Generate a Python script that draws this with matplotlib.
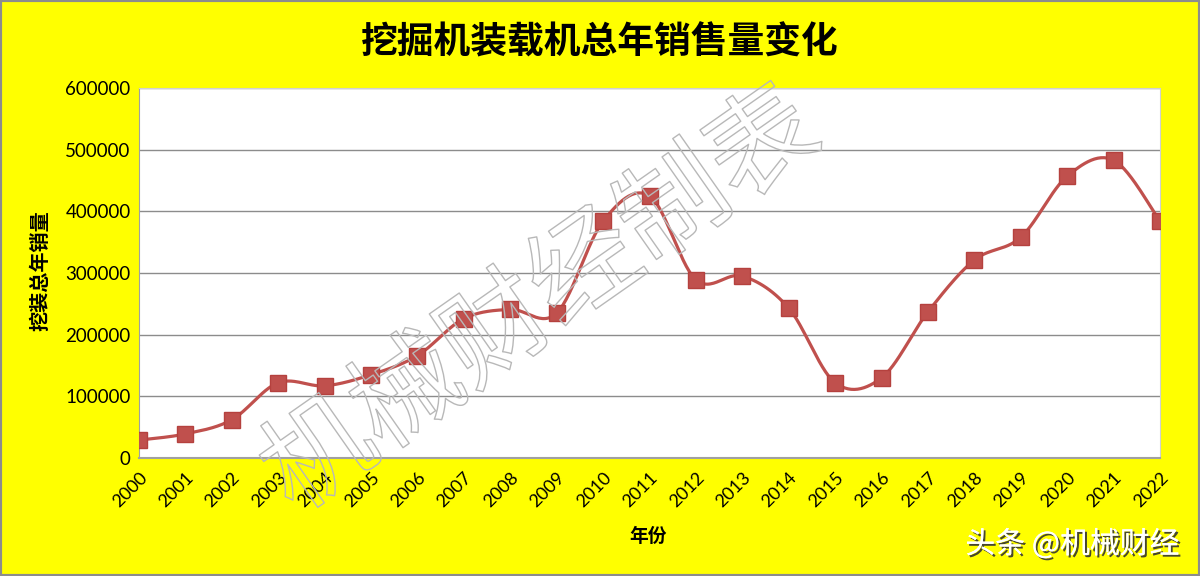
import numpy as np
import matplotlib
matplotlib.use("Agg")
import matplotlib.pyplot as plt
import matplotlib.patheffects as pe

plt.rcParams['font.family'] = ['Noto Sans CJK SC', 'DejaVu Sans']

# data
years = list(range(2000, 2023))
sales = [29000, 39000, 62000, 122000, 117000, 135000, 166000, 226000, 241000, 235000,
         384000, 425000, 289000, 295000, 243000, 122000, 130000, 237000, 321000, 358000,
         457000, 483000, 384000]
yticks = [0, 100000, 200000, 300000, 400000, 500000, 600000]

title = '挖掘机装载机总年销售量变化'
xlabel = '年份'
ylabel = '挖装总年销量'
watermark = '机械财经制表'
credit = '头条 @机械财经'

YELLOW = '#FFFF00'
RED = '#C0504D'
TICK_FONT = ['Lato', 'DejaVu Sans']


def smooth(x, y, n=30):
    """Catmull-Rom curve through the points, like Excel's smoothed line"""
    x = np.asarray(x, float)
    y = np.asarray(y, float)
    px = np.concatenate([[x[0]], x, [x[-1]]])
    py = np.concatenate([[y[0]], y, [y[-1]]])
    xs, ys = [], []
    t = np.linspace(0, 1, n)
    for i in range(1, len(px) - 2):
        p0x, p1x, p2x, p3x = px[i - 1], px[i], px[i + 1], px[i + 2]
        p0y, p1y, p2y, p3y = py[i - 1], py[i], py[i + 1], py[i + 2]
        c1x, c1y = p1x + (p2x - p0x) / 6, p1y + (p2y - p0y) / 6
        c2x, c2y = p2x - (p3x - p1x) / 6, p2y - (p3y - p1y) / 6
        bx = (1 - t) ** 3 * p1x + 3 * (1 - t) ** 2 * t * c1x + 3 * (1 - t) * t ** 2 * c2x + t ** 3 * p2x
        by = (1 - t) ** 3 * p1y + 3 * (1 - t) ** 2 * t * c1y + 3 * (1 - t) * t ** 2 * c2y + t ** 3 * p2y
        xs.append(bx)
        ys.append(by)
    return np.concatenate(xs), np.concatenate(ys)


fig = plt.figure(figsize=(12, 5.76), dpi=100, facecolor=YELLOW)
fig.patches.append(plt.Rectangle((0, 0), 1, 1, transform=fig.transFigure,
                                 fill=False, edgecolor='#8c8c8c', linewidth=3))

ax = fig.add_axes([0.1158, 0.2049, 0.8509, 0.6423])
ax.set_facecolor('white')

x = np.arange(len(years))
sx, sy = smooth(x, sales)
ax.plot(sx, sy, color=RED, linewidth=2.3, zorder=3)
ax.plot(x, sales, linestyle='none', marker='s', markersize=11,
        color=RED, markeredgecolor='#b5413e', zorder=4)

ax.set_xlim(0, len(years) - 1)
ax.set_ylim(0, 600000)
ax.set_yticks(yticks)
ax.set_yticklabels([str(v) for v in yticks], fontsize=13.5, family=TICK_FONT)
ax.set_xticks(x)
ax.set_xticklabels([str(y) for y in years], rotation=45, ha='right',
                   rotation_mode='anchor', fontsize=13, family=TICK_FONT)
ax.tick_params(axis='both', length=0, pad=6)
ax.tick_params(axis='x', pad=8)
ax.yaxis.grid(True, color='#8c8c8c', linewidth=1)
ax.set_axisbelow(True)
for s in ['top', 'right']:
    ax.spines[s].set_color('#d0d0d0')
ax.spines['left'].set_color('#a0a0a0')
ax.spines['bottom'].set_color('#a0a0a0')
ax.spines['bottom'].set_linewidth(1.5)

fig.text(0.5, 0.925, title, ha='center', va='center', fontsize=26.5, fontweight='bold')
fig.text(0.54, 0.068, xlabel, ha='center', va='center', fontsize=13.5, fontweight='bold')
fig.text(0.033, 0.53, ylabel, ha='center', va='center', rotation=90,
         fontsize=14.5, fontweight='bold')

# outlined watermark across the plot
fig.text(0.452, 0.475, watermark, ha='center', va='center', rotation=35,
         fontsize=78, fontweight='light', color=(1, 1, 1, 0), zorder=5,
         path_effects=[pe.withStroke(linewidth=1.0, foreground='#b8b8b8')])

fig.text(0.983, 0.055, credit, ha='right', va='center', fontsize=21.5, color='white',
         path_effects=[pe.withSimplePatchShadow(offset=(1.5, -1.5), shadow_rgbFace='#333333', alpha=0.9),
                       pe.Normal()])

fig.savefig('out.png', dpi=100, facecolor=YELLOW)
